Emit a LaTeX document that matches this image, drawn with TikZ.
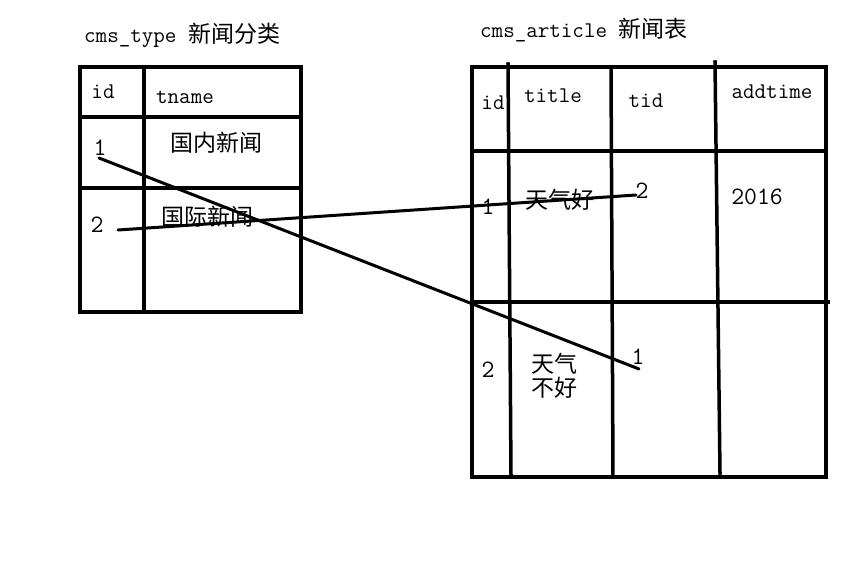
\documentclass[tikz,border=0pt]{standalone}
\usepackage{fontspec}
\newfontfamily\cjk{Noto Sans CJK SC}
\usetikzlibrary{%
  positioning
 ,calc
}
\tikzstyle{grid}=[line width=3.5pt,line cap=rect]
\tikzstyle{link}=[line width=3pt,line cap=round]
\tikzstyle{txt}=[inner sep=0pt,font=\fontsize{22.4}{24}\selectfont\ttfamily]
\tikzstyle{num}=[inner sep=0pt,font=\fontsize{25}{24}\selectfont\ttfamily]
\tikzstyle{zh}=[inner sep=0pt,align=left,font=\fontsize{23}{24}\selectfont\cjk]

\begin{document}
\begin{tikzpicture}[x=1pt,y=-1pt]
      \useasboundingbox (0,0) rectangle (857,573);
      % cms_type
      \node[txt,anchor=west] (t_head) at (84,35) {cms\_type {\fontsize{23}{24}\selectfont\cjk 新闻分类}};
      \draw[grid] (80,67) rectangle (301,312);
      \draw[grid] (144,67) -- (144,312);
      \draw[grid] (80,117) -- (301,117);
      \draw[grid] (80,188) -- (301,188);
      \node[txt] (t_id) at (103,92) {id};
      \node[txt] (t_tname) at (185,97) {tname};
      \node[num] (t_1) at (100,148) {1};
      \node[zh] (t_name1) at (216,143) {国内新闻};
      \node[num] (t_2) at (97,225) {2};
      \node[zh] (t_name2) at (207,217) {国际新闻};
      % cms_article
      \node[txt,anchor=west] (a_head) at (480,30) {cms\_article {\fontsize{23}{24}\selectfont\cjk 新闻表}};
      \draw[grid] (472,67) rectangle (826,477);
      \draw[grid] (508,64) -- (511,475);
      \draw[grid] (611,67) -- (613,477);
      \draw[grid] (715,62) -- (720,473);
      \draw[grid] (472,151) -- (826,151);
      \draw[grid] (472,302) -- (828,302);
      \node[txt] (a_id) at (493,103) {id};
      \node[txt] (a_title) at (553,96) {title};
      \node[txt] (a_tid) at (646,101) {tid};
      \node[txt] (a_addtime) at (772,92) {addtime};
      \node[num] (a_1) at (488,207) {1};
      \node[zh] (a_title1) at (560,200) {天气好};
      \node[num] (a_tid1) at (642,191) {2};
      \node[num] (a_time1) at (757,197) {2016};
      \node[num] (a_2) at (488,370) {2};
      \node[zh] (a_title2) at (554,376) {天气\\不好};
      \node[num] (a_tid2) at (638,357) {1};
      % links
      \coordinate (t_1end) at (99,158);
      \coordinate (t_2end) at (118,230);
      \coordinate (a_tid1end) at (636,195);
      \coordinate (a_tid2end) at (639,369);
      \draw[link] (t_1end) -- (a_tid2end);
      \draw[link] (t_2end) -- (a_tid1end);
    \end{tikzpicture}
\end{document}
